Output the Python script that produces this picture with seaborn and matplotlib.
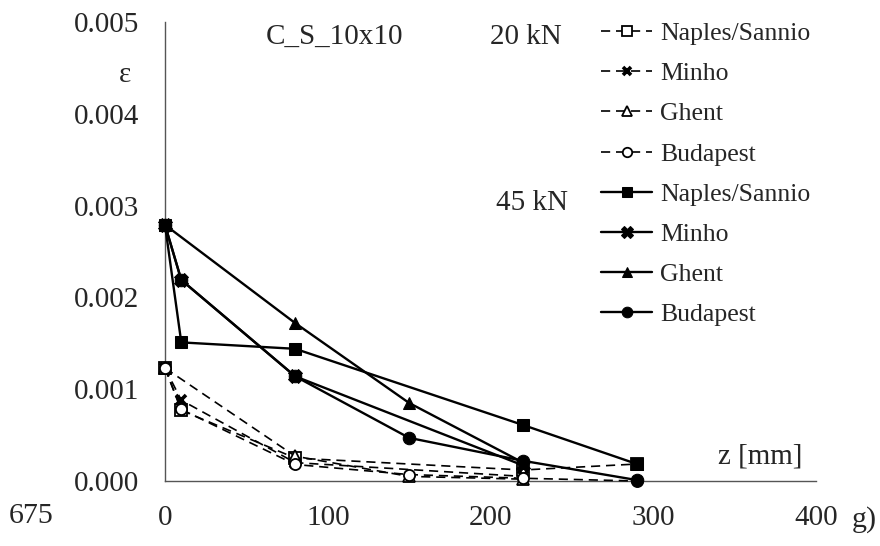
import numpy as np
import pandas as pd
import matplotlib
matplotlib.use('Agg')
import matplotlib.pyplot as plt
import seaborn as sns
from matplotlib.ticker import MultipleLocator, FormatStrFormatter

# strain profiles along z for the C_S_10x10 specimen
labs = ['Naples/Sannio', 'Minho', 'Ghent', 'Budapest']
markers_20 = ['s', 'x', '^', 'o']
markers_45 = ['s', 'X', '^', 'o']

# 20 kN
z_20 = {
    'Naples/Sannio': [0, 10, 80, 220, 290],
    'Minho': [0, 10, 80, 220],
    'Ghent': [0, 80, 150, 220],
    'Budapest': [0, 10, 80, 150, 220, 290],
}
eps_20 = {
    'Naples/Sannio': [0.00123, 0.00077, 0.00025, 0.00012, 0.000185],
    'Minho': [0.00123, 0.00088, 0.00020, 0.00005],
    'Ghent': [0.00123, 0.00027, 0.00005, 0.00002],
    'Budapest': [0.00123, 0.00078, 0.00018, 0.00007, 0.00003, 0.00000],
}

# 45 kN
z_45 = {
    'Naples/Sannio': [0, 10, 80, 220, 290],
    'Minho': [0, 10, 80, 220],
    'Ghent': [0, 80, 150, 220],
    'Budapest': [0, 10, 80, 150, 220, 290],
}
eps_45 = {
    'Naples/Sannio': [0.00279, 0.00151, 0.00144, 0.00061, 0.000185],
    'Minho': [0.00279, 0.00219, 0.00114, 0.00017],
    'Ghent': [0.00279, 0.00172, 0.00085, 0.00020],
    'Budapest': [0.00279, 0.00219, 0.00114, 0.00047, 0.00022, 0.00001],
}

sns.set_style('white')
plt.rcParams['font.family'] = ['Liberation Serif', 'DejaVu Serif']

fig = plt.figure(figsize=(8.8, 5.46), dpi=100)
ax = fig.add_axes([165/880, 1-481/546, (816-165)/880, (481-22)/546])

for lab, m in zip(labs, markers_20):
    kw = dict(markerfacecolor='white', markeredgecolor='black', markeredgewidth=1.3, markersize=8)
    if m == 'x':
        kw = dict(markeredgecolor='black', markeredgewidth=2.6, markersize=7)
    sns.lineplot(x=z_20[lab], y=eps_20[lab], ax=ax, color='black', lw=1.2,
                 linestyle=(0, (5.5, 3.5)), marker=m, label=lab, clip_on=False, zorder=3, **kw)
for lab, m in zip(labs, markers_45):
    sns.lineplot(x=z_45[lab], y=eps_45[lab], ax=ax, color='black', lw=1.7,
                 linestyle='-', marker=m, markersize=9 if m != 'X' else 10,
                 markerfacecolor='black', markeredgecolor='black',
                 label=lab, clip_on=False, zorder=4)

ax.set_xlim(0, 400)
ax.set_ylim(0, 0.005)
ax.xaxis.set_major_locator(MultipleLocator(100))
ax.xaxis.set_minor_locator(MultipleLocator(50))
ax.yaxis.set_major_locator(MultipleLocator(0.001))
ax.yaxis.set_minor_locator(MultipleLocator(0.0005))
ax.yaxis.set_major_formatter(FormatStrFormatter('%.3f'))

for s in ['top', 'right']:
    ax.spines[s].set_visible(False)
for s in ['left', 'bottom']:
    ax.spines[s].set_color('#555555')
    ax.spines[s].set_linewidth(1.0)

ax.tick_params(axis='both', which='both', direction='inout', length=10, width=1.0,
               color='black', labelsize=21)
ax.tick_params(axis='y', which='major', pad=13.5)
ax.tick_params(axis='x', which='major', pad=12)

ax.set_ylabel('ε', rotation=0, fontsize=21)
ax.yaxis.set_label_coords(-0.061, 0.885)
ax.yaxis.label.set_va('center')
ax.yaxis.label.set_ha('center')

ax.set_xlabel('z [mm]', fontsize=21)
ax.xaxis.set_label_coords(0.914, 0.054)
ax.xaxis.label.set_va('center')

ax.text(104, 0.00484, 'C_S_10x10', fontsize=21, ha='center', va='center')
ax.text(222, 0.00484, '20 kN', fontsize=21, ha='center', va='center')
ax.text(225.5, 0.00303, '45 kN', fontsize=21, ha='center', va='center')

fig.text(31/880, 1-516/546, '675', fontsize=21.5, ha='center', va='center')
fig.text(864/880, 1-520/546, 'g)', fontsize=21.5, ha='center', va='center')

leg = ax.legend(loc='upper left', bbox_to_anchor=(601/880, 1-22/546),
                bbox_transform=fig.transFigure, frameon=False, fontsize=18.5,
                handlelength=2.0, handletextpad=0.3, labelspacing=0.67,
                borderpad=0, borderaxespad=0, markerscale=0.85)

fig.savefig('out.png', dpi=100)
